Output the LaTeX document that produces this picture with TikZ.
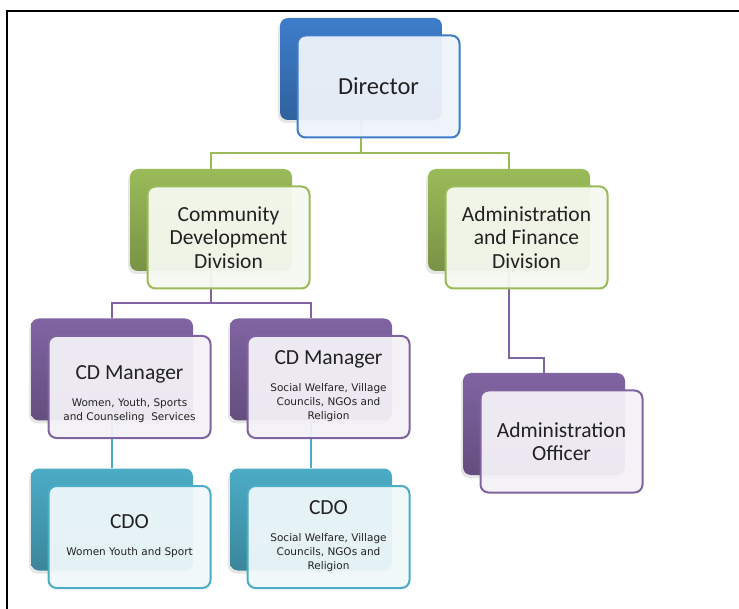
\documentclass[tikz,border=0pt]{standalone}
\usepackage{fontspec}
\setmainfont{Carlito}
\newfontfamily\smallfont{DejaVu Sans}
\usetikzlibrary{shadows}
\definecolor{dirblue}{HTML}{3D7DCA}
\definecolor{divgreen}{HTML}{9BBB59}
\definecolor{mgrpurple}{HTML}{8064A2}
\definecolor{cdocyan}{HTML}{4BACC6}
\definecolor{textgray}{HTML}{222222}
\newcommand\subtext[1]{{\smallfont\fontsize{10.5}{14}\selectfont\begin{tabular}[t]{@{}c@{}}#1\end{tabular}}}
\begin{document}
\begin{tikzpicture}[x=1pt,y=-1pt,
  back/.style={rectangle, rounded corners=8pt, minimum width=162pt, minimum height=102pt, inner sep=0pt,
    top color=#1, bottom color=#1!78!black, drop shadow={shadow xshift=-2pt, shadow yshift=-3pt, opacity=0.2}},
  front/.style={rectangle, rounded corners=8pt, minimum width=162pt, minimum height=102pt, inner sep=2pt,
    draw=#1, line width=2pt, fill=#1!9!white, fill opacity=0.95, text opacity=1,
    align=center, text=textgray, font=\fontsize{21.5}{23.5}\selectfont},
  link/.style={draw=#1, line width=2pt}]
\useasboundingbox (0,0) rectangle (739,609);
\draw[line width=2.5pt] (7,609) -- (7,11) -- (739,11);

% back boxes
\node[back=dirblue] (dirb) at (361,69) {};
\node[back=divgreen] (cddb) at (211,220) {};
\node[back=divgreen] (afdb) at (509,220) {};
\node[back=mgrpurple] (cdm1b) at (112,369.5) {};
\node[back=mgrpurple] (cdm2b) at (311,369.5) {};
\node[back=mgrpurple] (aob) at (544,424) {};
\node[back=cdocyan] (cdo1b) at (112,519.5) {};
\node[back=cdocyan] (cdo2b) at (311,519.5) {};

% connectors
\draw[link=divgreen] (dirb.south) -- ++(0,33) -| (cddb.north);
\draw[link=divgreen] (dirb.south) -- ++(0,33) -| (afdb.north);
\draw[link=mgrpurple] (cddb.south) -- ++(0,32) -| (cdm1b.north);
\draw[link=mgrpurple] (cddb.south) -- ++(0,32) -| (cdm2b.north);
\draw[link=mgrpurple] (afdb.south) -- ++(0,87) -| (aob.north);
\draw[link=cdocyan] (cdm1b.south) -- (cdo1b.north);
\draw[link=cdocyan] (cdm2b.south) -- (cdo2b.north);

% front boxes
\node[front=dirblue, font=\fontsize{24.5}{26}\selectfont] (dir) at ([shift={(17.5,17.5)}]dirb.center) {Director};
\node[front=divgreen] (cdd) at ([shift={(17.5,17.5)}]cddb.center) {Community\\Development\\Division};
\node[front=divgreen] (afd) at ([shift={(17.5,17.5)}]afdb.center) {Administration\\and Finance\\Division};
\node[front=mgrpurple] (cdm1) at ([shift={(17.5,17.5)}]cdm1b.center)
  {\rule{0pt}{30pt}CD Manager\\[3pt]\subtext{Women, Youth, Sports\\and Counseling\ \ Services}};
\node[front=mgrpurple] (cdm2) at ([shift={(17.5,17.5)}]cdm2b.center)
  {CD Manager\\[3pt]\subtext{Social Welfare, Village\\Councils, NGOs and\\Religion}};
\node[front=mgrpurple] (ao) at ([shift={(17.5,17.5)}]aob.center) {Administration\\Officer};
\node[front=cdocyan] (cdo1) at ([shift={(17.5,17.5)}]cdo1b.center)
  {CDO\\[3pt]\subtext{Women Youth and Sport}};
\node[front=cdocyan] (cdo2) at ([shift={(17.5,17.5)}]cdo2b.center)
  {CDO\\[3pt]\subtext{Social Welfare, Village\\Councils, NGOs and\\Religion}};
\end{tikzpicture}
\end{document}
